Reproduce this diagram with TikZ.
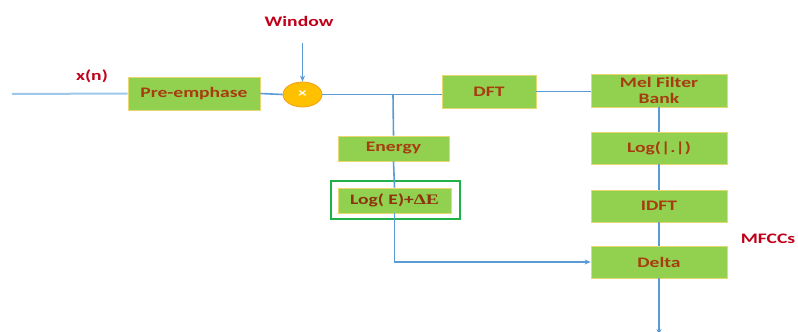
\documentclass[tikz,border=0pt]{standalone}
\usepackage{graphicx}
\usepackage{fontspec}
\setmainfont{Carlito}
\newfontfamily\serifbold{Liberation Serif}
\usetikzlibrary{arrows.meta,shapes.geometric}
\definecolor{boxgreen}{HTML}{92D050}
\definecolor{boxborder}{HTML}{E8D870}
\definecolor{boxtext}{HTML}{A63C10}
\definecolor{labelred}{HTML}{C00018}
\definecolor{linkblue}{HTML}{5B9BD5}
\definecolor{inblue}{HTML}{9DC8EC}
\definecolor{framegreen}{HTML}{1FB04A}
\definecolor{mulfill}{HTML}{FFC000}
\definecolor{mulborder}{HTML}{F0A020}
\newcommand{\hs}[1]{\scalebox{1.35}[1]{#1}}
\begin{document}
\begin{tikzpicture}[x=1pt,y=-1pt,
  blockbox/.style={draw=boxborder,fill=boxgreen,line width=0.7pt,inner sep=0pt,
    font=\bfseries\fontsize{14.5}{17}\selectfont,text=boxtext,align=center},
  lab/.style={font=\bfseries\fontsize{14.5}{17}\selectfont,text=labelred,inner sep=0pt},
  link/.style={draw=linkblue,line width=1.6pt},
  arr/.style={link,-{Stealth[length=6pt,width=5pt]}}]
\useasboundingbox (0,0) rectangle (798,332);

\node[blockbox,minimum width=132pt,minimum height=33pt] (pre) at (194,93.5) {\hs{Pre-emphase}};
\node[ellipse,draw=mulborder,fill=mulfill,line width=0.8pt,minimum width=39pt,minimum height=25pt,inner sep=0pt,text=white,font=\bfseries\fontsize{13}{13}\selectfont] (mul) at (302.5,94.5) {\hs{×}};
\node[blockbox,minimum width=94pt,minimum height=33pt] (dft) at (489,91.5) {\hs{DFT}};
\node[blockbox,minimum width=136pt,minimum height=33pt] (mel) at (659,90.5) {\hs{Mel Filter}\\[-1pt]\hs{Bank}};
\node[blockbox,minimum width=111pt,minimum height=25pt] (energy) at (393.5,148.5) {\hs{Energy}};
\node[draw=framegreen,line width=1.4pt,minimum width=129pt,minimum height=38pt,inner sep=0pt] (frame) at (395.5,200) {};
\node[blockbox,minimum width=113pt,minimum height=25pt,text=boxtext!85!black] (loge) at (394.5,200.5) {\hs{Log( E)+{\serifbold\bfseries ∆E}}};
\node[blockbox,minimum width=136pt,minimum height=32pt] (logabs) at (659,148) {\hs{Log(|.|)}};
\node[blockbox,minimum width=136pt,minimum height=32pt] (idft) at (659,206) {\hs{IDFT}};
\node[blockbox,minimum width=136pt,minimum height=32pt] (delta) at (659,262) {\hs{Delta}};

\node[lab] (xn) at (92,76) {\hs{x(n)}};
\node[lab] (win) at (299,21) {\hs{Window}};
\node[lab] (mfcc) at (768,239) {\hs{MFCCs}};

\coordinate (in) at (12,94);
\coordinate (wtop) at (302.5,43);
\coordinate (br) at (393,94.5);
\coordinate (out) at (659,335);

\draw[draw=inblue,line width=2pt] (in) -- (pre.west);
\draw[link] (pre.east) -- (mul.west);
\draw[arr] (wtop) -- (mul.north);
\draw[link] (mul.east) -- (mul.east -| dft.west);
\draw[link] (br) -- (energy.north);
\draw[link] (energy.south) -- (loge.north);
\draw[arr] (loge.south) |- (delta.west);
\draw[link] (dft.east) -- (dft.east -| mel.west);
\draw[link] (mel.south) -- (logabs.north);
\draw[link] (logabs.south) -- (idft.north);
\draw[link] (idft.south) -- (delta.north);
\draw[arr] (delta.south) -- (out);
\end{tikzpicture}
\end{document}
